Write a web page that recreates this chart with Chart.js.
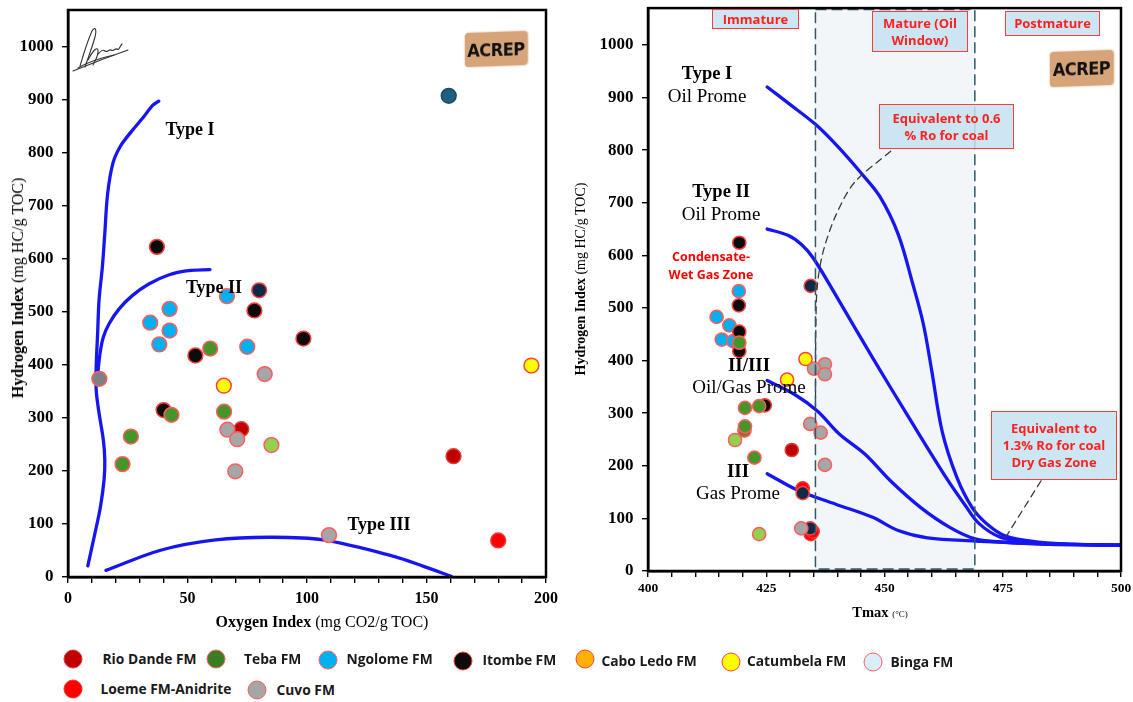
<!DOCTYPE html>
<html>
<head>
<meta charset="utf-8">
<title>Kerogen type and maturity plots</title>
<script src="https://cdn.jsdelivr.net/npm/chart.js@4.4.1/dist/chart.umd.min.js"></script>
<style>
  html, body { margin: 0; padding: 0; background: #fff; }
  #wrap { position: relative; width: 1133px; height: 702px; overflow: hidden; }
  canvas { position: absolute; top: 0; }
  #cvL { left: 0; }
  #cvR { left: 565px; }
  .lbl { position: absolute; transform: translate(-50%, -50%); white-space: nowrap; color: #000; line-height: 1; }
  .ser { font-family: "Liberation Serif", "Times New Roman", serif; }
  .b { font-weight: bold; }
  .axt { position: absolute; white-space: nowrap; color: #000; line-height: 1;
         font-family: "Liberation Serif", "Times New Roman", serif; transform: translate(-50%, -50%); }
  .axt.rot { transform: translate(-50%, -50%) rotate(-90deg); }
  .note { position: absolute; box-sizing: border-box; background: rgba(196, 226, 241, 0.86);
          border: 1.6px solid #ff3a3a; color: #ff1f1f; font-family: "Open Sans", sans-serif;
          font-weight: 700; font-size: 13px; line-height: 17px; text-align: center;
          display: flex; align-items: center; justify-content: center; }
  .zone { position: absolute; transform: translate(-50%, -50%); color: #ff0000; text-align: center;
          font-family: "Open Sans", sans-serif; font-weight: 700; font-size: 12.5px; line-height: 18px; white-space: nowrap; }
  .logo { position: absolute; background: #d7a47a; border-radius: 4px; box-shadow: 0 0 2px #c99a70;
          display: flex; align-items: center; justify-content: center;
          font-family: "Liberation Sans Narrow", "DejaVu Sans Condensed", "Roboto", sans-serif;
          font-weight: 700; color: #111; letter-spacing: -0.5px; }
  .leg-dot { position: absolute; width: 19px; height: 19px; border-radius: 50%; box-sizing: border-box;
             transform: translate(-50%, -50%); }
  .leg-txt { position: absolute; transform: translateY(-50%); white-space: nowrap; color: #1a1a1a;
             font-family: "Open Sans", sans-serif; font-weight: 700; font-size: 13.8px; line-height: 1; }
</style>
</head>
<body>
<div id="wrap">
  <canvas id="cvL" width="565" height="630"></canvas>
  <canvas id="cvR" width="568" height="630"></canvas>
</div>
<script>
// ---------------- data ----------------
const formations = ["Rio Dande FM", "Teba FM", "Ngolome FM", "Itombe FM", "Cabo Ledo FM",
                    "Catumbela FM", "Binga FM", "Loeme FM-Anidrite", "Cuvo FM"];

const oiTickLabels = [0, 50, 100, 150, 200];
const tmaxTickLabels = [400, 425, 450, 475, 500];
const hiTickLabels = [0, 100, 200, 300, 400, 500, 600, 700, 800, 900, 1000];

// Oxygen Index (mg CO2/g TOC) vs Hydrogen Index (mg HC/g TOC)
const oiRioDande = [[72.5, 279], [161.3, 228]];
const oiTeba = [[59.5, 431], [43.3, 306], [65.3, 312], [26.3, 265], [22.8, 213]];
const oiNgolome = [[66.5, 530], [42.5, 506], [34.4, 480], [42.5, 465], [38.2, 439], [75.0, 434.5]];
const oiItombe = [[37.2, 623], [78.0, 503], [98.5, 450], [53.3, 418], [40.0, 315]];
const oiCaboLedo = [];
const oiCatumbela = [[65.2, 361], [193.9, 399]];
const oiBinga = [];
const oiLoeme = [[180.0, 69]];
const oiCuvo = [[82.3, 383], [66.7, 278], [70.8, 260], [70.0, 199.5], [109.2, 79]];
const oiGroupNavy = [[80.0, 541]];
const oiGroupTeal = [[159.3, 908]];
const oiGroupLightGreen = [[85.1, 249]];
const oiGroupBrown = [];
const oiGroupDarkGrey = [[13.1, 374]];

// Tmax (°C) vs Hydrogen Index (mg HC/g TOC)
const tmRioDande = [[430.4, 230]];
const tmTeba = [[419.3, 434], [420.5, 310], [423.5, 313.5], [420.5, 275], [422.5, 215.5]];
const tmNgolome = [[419.2, 532], [414.5, 483], [417.2, 467], [415.6, 440], [418.0, 437]];
const tmItombe = [[419.3, 624], [419.2, 505], [419.3, 455], [419.3, 418], [424.7, 315]];
const tmCaboLedo = [];
const tmCatumbela = [[433.3, 403], [429.4, 363.6]];
const tmBinga = [];
const tmLoeme = [[432.7, 157], [434.4, 70], [434.8, 75]];
const tmCuvo = [[437.4, 393], [435.1, 384.5], [437.4, 374], [434.3, 279.5], [436.5, 263], [437.4, 201.7], [432.4, 81]];
const tmGroupNavy = [[434.4, 542], [432.7, 148], [434.3, 81]];
const tmGroupTeal = [];
const tmGroupLightGreen = [[418.4, 249], [423.5, 70]];
const tmGroupBrown = [[420.4, 267]];
const tmGroupDarkGrey = [];

// kerogen evolution paths, OI-HI diagram
const pathTypeI_OI = [[8.3, 21], [11.3, 83], [13.6, 133], [15.1, 184], [15.4, 221], [14.8, 258], [12.8, 315],
  [11.8, 353], [11.8, 397], [12.4, 460], [13.0, 523], [14.4, 586], [15.4, 649], [16.6, 724], [18.8, 781],
  [21.8, 812], [26.4, 840], [31.6, 868], [35.4, 890], [38.0, 898]];
const pathTypeII_OI = [[12.2, 372], [13.4, 422], [14.8, 453], [17.2, 478], [21.4, 506], [26.9, 531],
  [33.8, 553], [42.1, 570], [50.4, 578], [59.4, 580]];
const pathTypeIII_OI = [[15.9, 12.5], [39.1, 51], [61.7, 70], [84.2, 75], [106.7, 70], [136.7, 38.6],
  [148.8, 20], [160.5, 1]];

// kerogen paths, Tmax-HI diagram
const pathTypeI_T = [[425.2, 920], [430, 887], [435.4, 849], [440, 808], [445, 757], [449, 712], [452.9, 640],
  [456, 545], [458.2, 470], [460, 380], [462.2, 265], [465.3, 178], [468.5, 121], [471.6, 90], [475.5, 67],
  [482.5, 55], [490, 51], [500, 49]];
const pathTypeII_T = [[425.2, 650], [429.6, 638], [432.5, 620], [435, 594], [440.5, 512], [447.5, 405],
  [455.2, 291], [463, 178], [466.9, 127], [470, 90], [474.6, 64], [482.5, 52], [490, 50], [500, 49]];
const pathTypeIIIII_T = [[425.2, 362], [431.1, 335], [435.8, 304], [440.5, 260], [445.9, 222], [451.3, 171],
  [457.6, 121], [463.8, 83], [469.2, 61], [475, 55], [485, 51], [500, 49]];
const pathTypeIII_T = [[425.2, 185], [431.9, 152.5], [439.7, 127], [447.5, 102], [452.9, 77], [459.1, 63],
  [469.2, 57], [482.5, 52], [500, 49]];

// leader lines for the vitrinite reflectance notes
const leaderRo06 = [[451.3, 798], [443.6, 738], [439.7, 676], [437.0, 606], [435.8, 543], [435.5, 474], [435.4, 300]];
const leaderRo13 = [[483.1, 171.6], [475.4, 61]];

// Tmax bounds of the oil window
const oilWindowTmax = [435.4, 469.1];

// ---------------- styling ----------------
const STYLE = {
  "Rio Dande FM":      { fill: "#c00000", edge: "#e03a3a" },
  "Teba FM":           { fill: "#45952a", edge: "#ff5c5c" },
  "Ngolome FM":        { fill: "#00b0f0", edge: "#ff5c5c" },
  "Itombe FM":         { fill: "#0b0b0b", edge: "#ff3c3c" },
  "Cabo Ledo FM":      { fill: "#ffb000", edge: "#ff4040" },
  "Catumbela FM":      { fill: "#ffff00", edge: "#ff4040" },
  "Binga FM":          { fill: "#daeef8", edge: "#ff5c5c" },
  "Loeme FM-Anidrite": { fill: "#ff0000", edge: "#ff3030" },
  "Cuvo FM":           { fill: "#a6a6a6", edge: "#ff5c5c" },
  "Group navy":        { fill: "#0f2a45", edge: "#ff4040" },
  "Group teal":        { fill: "#1f5f80", edge: "#1a4f6b" },
  "Group light green": { fill: "#92d050", edge: "#ff5c5c" },
  "Group brown":       { fill: "#9c6a34", edge: "#ff5c5c" },
  "Group dark grey":   { fill: "#808080", edge: "#ff5c5c" }
};
const LEGEND_FILL = { "Teba FM": "#3b7d23" };
const CURVE_BLUE = "#1616f2";

// drawing order: earlier entries sit on top
const oiGroups = [
  ["Teba FM", oiTeba], ["Group light green", oiGroupLightGreen], ["Group brown", oiGroupBrown],
  ["Cuvo FM", oiCuvo], ["Group dark grey", oiGroupDarkGrey], ["Itombe FM", oiItombe],
  ["Ngolome FM", oiNgolome], ["Catumbela FM", oiCatumbela], ["Group navy", oiGroupNavy],
  ["Loeme FM-Anidrite", oiLoeme], ["Rio Dande FM", oiRioDande], ["Cabo Ledo FM", oiCaboLedo],
  ["Binga FM", oiBinga], ["Group teal", oiGroupTeal]
];
const tmGroups = [
  ["Teba FM", tmTeba], ["Group light green", tmGroupLightGreen], ["Group brown", tmGroupBrown],
  ["Cuvo FM", tmCuvo], ["Group dark grey", tmGroupDarkGrey], ["Itombe FM", tmItombe],
  ["Ngolome FM", tmNgolome], ["Catumbela FM", tmCatumbela], ["Group navy", tmGroupNavy],
  ["Loeme FM-Anidrite", tmLoeme], ["Rio Dande FM", tmRioDande], ["Cabo Ledo FM", tmCaboLedo],
  ["Binga FM", tmBinga], ["Group teal", tmGroupTeal]
];

const toXY = arr => arr.map(([x, y]) => ({ x, y }));

function pointSets(groups, radius) {
  return groups.map(([name, data]) => ({
    type: "scatter", label: name, data: toXY(data),
    backgroundColor: STYLE[name].fill, borderColor: STYLE[name].edge,
    borderWidth: 1.5, pointRadius: radius, pointHoverRadius: radius, order: 1
  }));
}
function curveSet(label, data, extra) {
  return Object.assign({
    type: "line", label, data: toXY(data), borderColor: CURVE_BLUE, borderWidth: 3.3,
    pointRadius: 0, tension: 0.35, fill: false, borderCapStyle: "round", order: 2
  }, extra || {});
}

// black frame around the plotting area
const framePlugin = {
  id: "plotFrame",
  afterDatasetsDraw(chart) {
    const { ctx, chartArea: a } = chart;
    ctx.save();
    ctx.strokeStyle = "#000";
    ctx.lineWidth = 2.5;
    ctx.strokeRect(a.left, a.top, a.right - a.left, a.bottom - a.top);
    ctx.restore();
  }
};

// shaded oil window band with dashed outline
const oilWindowPlugin = {
  id: "oilWindow",
  beforeDatasetsDraw(chart) {
    const { ctx, chartArea: a, scales } = chart;
    const x0 = scales.x.getPixelForValue(oilWindowTmax[0]);
    const x1 = scales.x.getPixelForValue(oilWindowTmax[1]);
    ctx.save();
    ctx.fillStyle = "#f3f6f9";
    ctx.fillRect(x0, a.top, x1 - x0, a.bottom - a.top);
    ctx.restore();
  },
  afterDatasetsDraw(chart) {
    const { ctx, chartArea: a, scales } = chart;
    const x0 = scales.x.getPixelForValue(oilWindowTmax[0]);
    const x1 = scales.x.getPixelForValue(oilWindowTmax[1]);
    ctx.save();
    ctx.strokeStyle = "#2d5b6b";
    ctx.lineWidth = 1.5;
    ctx.setLineDash([11, 5]);
    ctx.strokeRect(x0, a.top + 1.5, x1 - x0, a.bottom - a.top - 3.5);
    ctx.restore();
  }
};

function axisCommon(tickFont, pad) {
  return {
    grid: { drawOnChartArea: false, drawTicks: true, tickLength: 6, color: "#000", lineWidth: 1.4 },
    border: { color: "#000", width: 2.5 },
    ticks: { color: "#000", font: tickFont, padding: pad, autoSkip: false, maxRotation: 0, maxTicksLimit: 1000 }
  };
}

function makeChart(canvasId, cfg) {
  const xCommon = axisCommon({ family: "Liberation Serif", weight: "bold", size: cfg.xFont }, cfg.xPad);
  const yCommon = axisCommon({ family: "Liberation Serif", weight: "bold", size: 17 }, 8.5);
  return new Chart(document.getElementById(canvasId), {
    type: "scatter",
    data: { datasets: cfg.datasets },
    options: {
      responsive: false, animation: false, events: [],
      layout: { padding: cfg.padding },
      plugins: { legend: { display: false }, tooltip: { enabled: false } },
      scales: {
        x: Object.assign({}, xCommon, {
          type: "linear", position: "bottom", min: cfg.xMin, max: cfg.xMax,
          ticks: Object.assign({}, xCommon.ticks, {
            stepSize: cfg.xStep,
            callback: v => (cfg.xLabels.includes(v) ? String(v) : "")
          }),
          afterFit(s) { s.height = cfg.xHeight; s.paddingLeft = 0; s.paddingRight = 0; }
        }),
        y: Object.assign({}, yCommon, {
          type: "linear", position: "left", min: 0, max: 1070,
          afterBuildTicks(s) { s.ticks = hiTickLabels.map(v => ({ value: v })); },
          ticks: Object.assign({}, yCommon.ticks, { callback: v => String(v) }),
          afterFit(s) { s.width = cfg.yWidth; s.paddingTop = 0; s.paddingBottom = 0; }
        })
      }
    },
    plugins: cfg.plugins
  });
}

// ---------------- left: HI vs OI ----------------
makeChart("cvL", {
  xMin: 0, xMax: 200, xStep: 10, xLabels: oiTickLabels, xFont: 16, xPad: 6,
  xHeight: 53, yWidth: 68, padding: { top: 10, right: 19, left: 0, bottom: 0 },
  datasets: pointSets(oiGroups, 7.4).concat([
    curveSet("Type I", pathTypeI_OI),
    curveSet("Type II", pathTypeII_OI),
    curveSet("Type III", pathTypeIII_OI)
  ]),
  plugins: [framePlugin]
});

// ---------------- right: HI vs Tmax ----------------
makeChart("cvR", {
  xMin: 400, xMax: 500, xStep: 5, xLabels: tmaxTickLabels, xFont: 13.5, xPad: 3,
  xHeight: 59, yWidth: 83, padding: { top: 4, right: 12, left: 0, bottom: 0 },
  datasets: pointSets(tmGroups, 6.6).concat([
    curveSet("Type I", pathTypeI_T),
    curveSet("Type II", pathTypeII_T),
    curveSet("II/III", pathTypeIIIII_T),
    curveSet("III", pathTypeIII_T),
    curveSet("0.6% Ro", leaderRo06, { borderColor: "#3a3a3a", borderWidth: 1.3, borderDash: [7, 5], tension: 0.3, order: 0 }),
    curveSet("1.3% Ro", leaderRo13, { borderColor: "#3a3a3a", borderWidth: 1.3, borderDash: [7, 5], tension: 0, order: 0 })
  ]),
  plugins: [oilWindowPlugin, framePlugin]
});

// ---------------- text overlays ----------------
const wrap = document.getElementById("wrap");
function add(html, cls, styleText) {
  const d = document.createElement("div");
  d.className = cls;
  d.innerHTML = html;
  d.style.cssText = styleText;
  wrap.appendChild(d);
  return d;
}

// axis titles
add('<b>Oxygen Index</b> (mg CO2/g TOC)', "axt", "left:322px;top:622px;font-size:16px;");
add('<b>Hydrogen Index</b> (mg HC/g TOC)', "axt rot", "left:18px;top:288px;font-size:16px;");
add('<b>Tmax</b> <span style="font-size:9px">(°C)</span>', "axt", "left:880px;top:612px;font-size:14.5px;");
add('<b>Hydrogen Index</b> (mg HC/g TOC)', "axt rot", "left:581px;top:279px;font-size:14px;");

// kerogen type labels, left
add("Type I", "lbl ser b", "left:190px;top:129px;font-size:18px;");
add("Type II", "lbl ser b", "left:214px;top:287px;font-size:18px;");
add("Type III", "lbl ser b", "left:379px;top:524px;font-size:18px;");

// kerogen type labels, right
add("Type I", "lbl ser b", "left:707px;top:73px;font-size:18.5px;");
add("Oil Prome", "lbl ser", "left:707px;top:95px;font-size:19px;");
add("Type II", "lbl ser b", "left:721px;top:191px;font-size:18.5px;");
add("Oil Prome", "lbl ser", "left:721px;top:213px;font-size:19px;");
add("II/III", "lbl ser b", "left:749px;top:364px;font-size:19px;");
add("Oil/Gas Prome", "lbl ser", "left:749px;top:386px;font-size:19px;");
add("III", "lbl ser b", "left:738px;top:470px;font-size:19px;");
add("Gas Prome", "lbl ser", "left:738px;top:492px;font-size:19px;");

// maturity notes
add("Immature", "note", "left:712px;top:9px;width:87px;height:20px;");
add("Mature (Oil<br>Window)", "note", "left:872px;top:11px;width:96px;height:41px;");
add("Postmature", "note", "left:1005px;top:11px;width:95px;height:25px;");
add("Equivalent to 0.6<br>% Ro for coal", "note", "left:879px;top:104px;width:135px;height:45px;");
add("Equivalent to<br>1.3% Ro for coal<br>Dry Gas Zone", "note", "left:991px;top:411px;width:126px;height:69px;");
add("Condensate-<br>Wet Gas Zone", "zone", "left:711px;top:266px;");

// company logos
add("ACREP", "logo", "left:465px;top:32px;width:62px;height:34px;font-size:18px;transform:skewY(-2deg);");
add("ACREP", "logo", "left:1050px;top:51px;width:63px;height:35px;font-size:18px;transform:skewY(-2deg);");

// signature
add('<svg width="62" height="52" viewBox="0 0 62 52"><g fill="none" stroke="#333" stroke-width="1.1" stroke-linecap="round">' +
    '<path d="M3 47 C 20 40, 38 33, 58 26"/>' +
    '<path d="M10 42 C 13 32, 17 18, 22 7 C 25 2, 27 5, 25 13 C 22 24, 18 34, 15 43"/>' +
    '<path d="M18 36 C 22 28, 27 22, 28 26 C 29 31, 25 37, 23 41"/>' +
    '<path d="M28 30 C 31 27, 33 25, 35 27 C 37 29, 39 25, 41 26 C 43 28, 45 24, 47 25 C 49 27, 50 22, 52 20"/>' +
    '<path d="M8 44 C 18 38, 30 34, 44 31"/></g></svg>',
    "", "position:absolute;left:70px;top:24px;");

// legend, built from the formation list
const LEGEND_SLOTS = [
  { dot: [73, 659], text: [102.5, 658.5] }, { dot: [215.5, 659], text: [244, 658.5] },
  { dot: [327.5, 660], text: [346.5, 659] }, { dot: [462.5, 660.5], text: [482.5, 659.5] },
  { dot: [585, 659], text: [601.5, 660.5] }, { dot: [730.5, 662], text: [747, 661] },
  { dot: [872.5, 662], text: [890.5, 662] }, { dot: [73, 689], text: [100.5, 689] },
  { dot: [256.5, 690], text: [276.5, 689.5] }
];
formations.forEach((name, i) => {
  const s = LEGEND_SLOTS[i];
  const st = STYLE[name];
  add("", "leg-dot", `left:${s.dot[0]}px;top:${s.dot[1]}px;background:${LEGEND_FILL[name] || st.fill};border:1.5px solid ${st.edge};`);
  add(name, "leg-txt", `left:${s.text[0]}px;top:${s.text[1]}px;`);
});
</script>
</body>
</html>
